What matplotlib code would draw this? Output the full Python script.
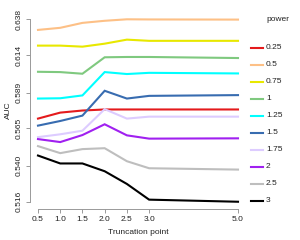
#!/usr/bin/env python3

import matplotlib

matplotlib.use("Agg")
import matplotlib.pyplot as plt
from matplotlib.lines import Line2D

plt.rcParams["font.family"] = ["Liberation Sans", "DejaVu Sans"]

truncation = [0.5, 1.0, 1.5, 2.0, 2.5, 3.0, 5.0]
powers = ["0.25", "0.5", "0.75", "1", "1.25", "1.5", "1.75", "2", "2.5", "3"]
colors = ["#E41A1C", "#FDC086", "#E8E800", "#7FC97F", "#00FFFF",
          "#386CB0", "#DDCCFF", "#A020F0", "#BEBEBE", "#000000"]

auc = {
    "0.25": [0.5716, 0.5756, 0.5770, 0.5777, 0.5777, 0.5777, 0.5777],
    "0.5": [0.6309, 0.6323, 0.6356, 0.6370, 0.6380, 0.6379, 0.6378],
    "0.75": [0.6204, 0.6204, 0.6197, 0.6217, 0.6244, 0.6236, 0.6236],
    "1": [0.6029, 0.6027, 0.6016, 0.6126, 0.6128, 0.6128, 0.6121],
    "1.25": [0.5850, 0.5852, 0.5871, 0.6027, 0.6014, 0.6022, 0.6018],
    "1.5": [0.5669, 0.5700, 0.5736, 0.5902, 0.5850, 0.5868, 0.5873],
    "1.75": [0.5592, 0.5611, 0.5635, 0.5779, 0.5716, 0.5729, 0.5729],
    "2": [0.5579, 0.5559, 0.5606, 0.5678, 0.5604, 0.5582, 0.5584],
    "2.5": [0.5532, 0.5485, 0.5512, 0.5518, 0.5431, 0.5384, 0.5375],
    "3": [0.5469, 0.5416, 0.5416, 0.5364, 0.5279, 0.5174, 0.5160],
}

ytick_labels = ["0.516", "0.540", "0.565", "0.589", "0.614", "0.638"]
xtick_labels = ["0.5", "1.0", "1.5", "2.0", "2.5", "3.0", "5.0"]

fig = plt.figure(figsize=(3.0, 2.4), dpi=100)
ax = fig.add_axes([0.10, 0.129, 0.72, 0.821])

for power, color in zip(powers, colors):
    ax.plot(truncation, auc[power], color=color, lw=1.5, solid_joinstyle="miter")

yticks = [float(v) for v in ytick_labels]
xticks = [float(v) for v in xtick_labels]
ymin, ymax = 0.516, 0.638
ypad = (ymax - ymin) * 0.04
xpad = (xticks[-1] - xticks[0]) * 0.04
ax.set_ylim(ymin - ypad, ymax + ypad)
ax.set_xlim(xticks[0] - xpad, xticks[-1] + xpad)

ax.set_yticks(yticks, ytick_labels, rotation=90, va="center")
ax.set_xticks(xticks, xtick_labels)
for side in ("top", "right"):
    ax.spines[side].set_visible(False)
ax.spines["left"].set_bounds(ymin, ymax)
ax.spines["bottom"].set_bounds(xticks[0], xticks[-1])
for side in ("left", "bottom"):
    ax.spines[side].set_color("#999999")
    ax.spines[side].set_linewidth(0.7)
ax.tick_params(axis="both", labelsize=6, length=3, width=0.7, color="#999999", pad=2, labelcolor="#222222")
ax.set_xlabel("Truncation point", fontsize=6, labelpad=4, color="#222222")
ax.set_ylabel("AUC", fontsize=6, labelpad=3, color="#222222")

# legend drawn at the figure's right edge
fig.text(266 / 300, 1 - 19.5 / 240, "power", fontsize=6, va="center", ha="left", color="#222222")
for i, (power, color) in enumerate(zip(powers, colors)):
    y = 1 - (47.7 + 17.0 * i) / 240
    fig.add_artist(Line2D([251 / 300, 263 / 300], [y, y], color=color, lw=1.5))
    fig.text(266 / 300, y, power, fontsize=6, va="center", ha="left", color="#222222")

fig.savefig("out.png", dpi=100)
